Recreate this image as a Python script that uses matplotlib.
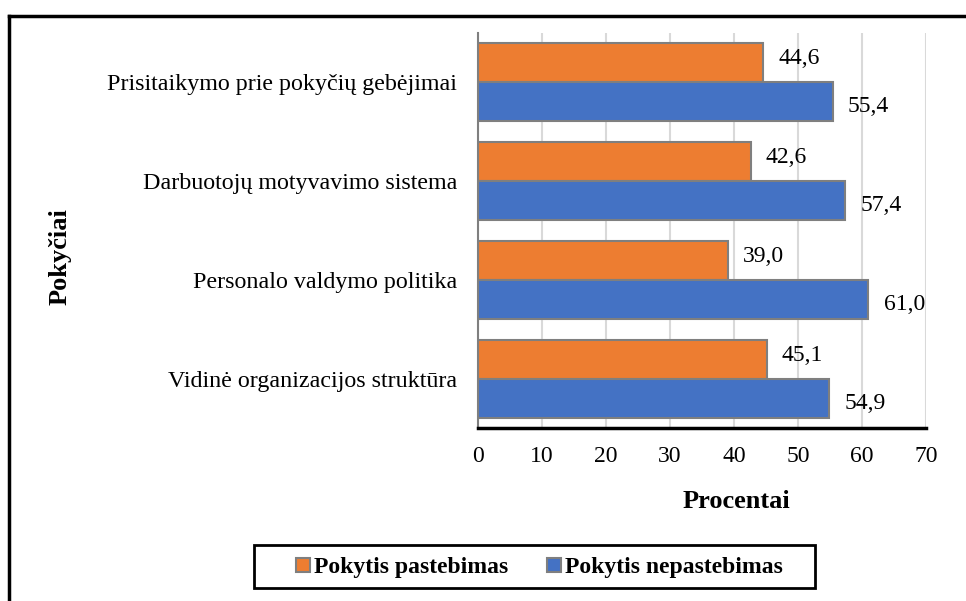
import matplotlib.pyplot as plt
import numpy as np
from matplotlib.lines import Line2D
from matplotlib.patches import Rectangle

# data
categories = ["Vidinė organizacijos struktūra", "Personalo valdymo politika",
              "Darbuotojų motyvavimo sistema", "Prisitaikymo prie pokyčių gebėjimai"]
pastebimas = [45.1, 39.0, 42.6, 44.6]
nepastebimas = [54.9, 61.0, 57.4, 55.4]
xticks = [0, 10, 20, 30, 40, 50, 60, 70]

plt.rcParams["font.family"] = ["Liberation Serif", "DejaVu Serif"]

fig = plt.figure(figsize=(9.66, 6.01), dpi=100)
ax = fig.add_axes([478 / 966, 1 - 428 / 601, 448 / 966, 395 / 601])

y = np.arange(len(categories))
h = 0.395
orange = "#ED7D31"
blue = "#4472C4"
edge = "#7f7f7f"
ax.barh(y + h / 2, pastebimas, height=h, color=orange, edgecolor=edge, linewidth=1.5, zorder=3)
ax.barh(y - h / 2, nepastebimas, height=h, color=blue, edgecolor=edge, linewidth=1.5, zorder=3)

# value labels
for i in range(len(categories)):
    ax.text(pastebimas[i] + 2.4, y[i] + h / 2 + 0.04, f"{pastebimas[i]:.1f}".replace(".", ","),
            va="center", ha="left", fontsize=17)
    ax.text(nepastebimas[i] + 2.4, y[i] - h / 2 - 0.05, f"{nepastebimas[i]:.1f}".replace(".", ","),
            va="center", ha="left", fontsize=17)

ax.set_xlim(0, 70)
ax.set_ylim(-0.5, len(categories) - 0.5)
ax.set_xticks(xticks)
ax.set_xticklabels([str(t) for t in xticks], fontsize=17)
ax.set_yticks(y)
ax.set_yticklabels(categories, fontsize=17.3)
ax.tick_params(axis="x", length=0, pad=13)
ax.tick_params(axis="y", length=0, pad=15)
ax.grid(axis="x", color="#d9d9d9", linewidth=1.5, zorder=0)
for s in ["top", "right"]:
    ax.spines[s].set_visible(False)
ax.spines["left"].set_color(edge)
ax.spines["left"].set_linewidth(1.5)
ax.spines["bottom"].set_color("black")
ax.spines["bottom"].set_linewidth(2.5)

fig.text(736 / 966, 1 - 502 / 601, "Procentai", ha="center", va="center",
         fontsize=19, fontweight="bold")
fig.text(60 / 966, 1 - 257 / 601, "Pokyčiai", ha="center", va="center",
         fontsize=19, fontweight="bold", rotation=90)

handles = [Line2D([], [], marker="s", linestyle="", markersize=10, markerfacecolor=orange,
                  markeredgecolor=edge, markeredgewidth=1.5),
           Line2D([], [], marker="s", linestyle="", markersize=10, markerfacecolor=blue,
                  markeredgecolor=edge, markeredgewidth=1.5)]
leg = fig.legend(handles, ["Pokytis pastebimas", "Pokytis nepastebimas"], ncol=2,
                 loc="center", bbox_to_anchor=(537 / 966, 1 - 567 / 601),
                 prop={"size": 17, "weight": "bold"}, frameon=False,
                 handletextpad=0.0, columnspacing=1.4, handlelength=1.0)
fig.add_artist(Rectangle((254 / 966, 1 - 588 / 601), (815 - 254) / 966, 43 / 601,
                         transform=fig.transFigure, fill=False, edgecolor="black", linewidth=2.0))

# outer border
fig.add_artist(Line2D([9 / 966, 9 / 966], [0, 1 - 16 / 601], color="black", linewidth=2.5))
fig.add_artist(Line2D([9 / 966, 1], [1 - 16 / 601, 1 - 16 / 601], color="black", linewidth=2.5))

fig.savefig("out.png", dpi=100)
